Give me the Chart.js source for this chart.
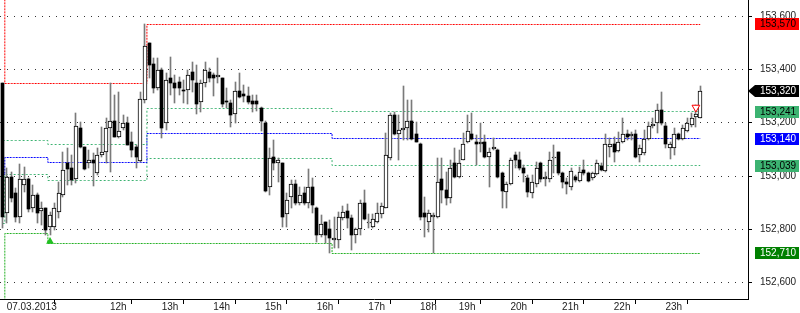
<!DOCTYPE html>
<html><head><meta charset="utf-8">
<script src="https://cdn.jsdelivr.net/npm/chart.js@4"></script>
<style>html,body{margin:0;padding:0;background:#fff;overflow:hidden}canvas{display:block}</style>
</head><body>
<canvas id="c" width="800" height="313"></canvas>
<script>
// ---- data (5-minute candles, 07.03.2013) ----
const openV = [
153348,152860,152998,152938,152848,152966,152988,152879,152929,152869,
152879,152810,152810,152866,152929,153048,153029,152988,153179,153108,
153050,153060,153010,153079,153089,153179,153206,153148,153179,153198,
153129,153108,153058,153285,153498,153419,153329,153398,153198,153366,
153348,153354,153323,153323,153389,153348,153279,153348,153389,153379,
153373,153366,153281,153273,153231,153319,153306,153300,153281,153280,
153256,153200,152960,153070,153050,153048,152858,152923,152969,152898,
152938,152898,152960,152879,152779,152826,152801,152760,152760,152844,
152869,152841,152779,152800,152898,152823,152810,152829,152858,152879,
153069,153229,153158,153173,153179,153206,153158,153120,152860,152829,
152848,152848,152989,152948,152916,153050,152998,153060,153129,153158,
153129,153120,153129,153073,153100,153098,153010,152939,152969,153079,
153060,153031,152994,152935,152969,153048,152989,152989,153066,153089,
153010,152979,152958,152995,152981,153023,153010,152994,153008,153038,
153020,153110,153119,153095,153129,153158,153151,153158,153079,153085,
153139,153189,153198,153248,153189,153106,153104,153156,153139,153170,
153191,153223,153219];
const highV = [
153348,153029,153016,152954,153044,153035,152991,152966,152935,152904,
152881,152866,152898,152979,153089,153104,153079,153235,153204,153110,
153098,153085,153104,153185,153216,153348,153304,153316,153229,153223,
153166,153116,153316,153569,153500,153441,153441,153404,153385,153448,
153379,153373,153360,153398,153429,153416,153360,153429,153404,153385,
153444,153368,153329,153285,153354,153385,153341,153335,153304,153302,
153260,153206,153104,153135,153066,153050,152935,152985,152985,152960,
152960,153026,152994,152885,152854,152829,152835,152848,152866,152889,
152894,152854,152804,152910,152948,152856,152856,152898,152900,153160,
153235,153241,153229,153339,153285,153285,153204,153123,152923,152873,
152860,153066,153066,153016,153060,153104,153098,153160,153229,153235,
153154,153198,153154,153104,153141,153100,153016,152979,153066,153091,
153091,153041,153004,153004,153054,153054,153016,153089,153116,153091,
153016,152991,153029,153004,153035,153060,153016,153016,153060,153048,
153156,153141,153148,153166,153216,153173,153166,153173,153116,153173,
153204,153216,153269,153316,153198,153129,153179,153160,153191,153216,
153235,153266,153338];
const lowV = [
152804,152823,152904,152829,152823,152941,152866,152866,152823,152816,
152779,152779,152798,152841,152923,152966,152966,152973,153104,153023,
153029,152964,153004,153073,153048,153016,153148,153141,153173,153116,
153073,153031,153054,153273,153366,153310,153323,153141,153173,153304,
153273,153304,153273,153269,153316,153231,153241,153335,153354,153300,
153348,153260,153254,153185,153198,153291,153279,153269,153241,153244,
153169,152941,152929,153023,152979,152810,152810,152879,152891,152891,
152891,152879,152860,152754,152773,152748,152712,152729,152729,152835,
152804,152723,152748,152779,152835,152804,152804,152823,152841,152879,
153060,153154,153060,153135,153135,153135,153126,152835,152773,152791,
152710,152841,152898,152891,152898,152991,152991,153060,153123,153135,
153041,153091,153066,152960,153098,152991,152881,152879,152966,153029,
153023,152979,152923,152916,152960,152979,152964,152979,153010,153004,
152954,152931,152948,152979,152979,153004,152979,152985,153004,153019,
153016,153073,153054,153089,153123,153135,153135,153066,153054,153079,
153135,153179,153160,153191,153104,153064,153079,153135,153135,153166,
153185,153185,153219];
const closeV = [
152848,152998,152919,152845,152988,152989,152876,152929,152860,152881,
152798,152854,152879,152938,153023,153026,152985,153188,153108,153026,
153060,153048,153079,153089,153179,153206,153148,153170,153198,153116,
153098,153070,153288,153489,153416,153329,153398,153179,153360,153348,
153329,153329,153319,153379,153360,153269,153348,153398,153366,153366,
153379,153269,153276,153229,153319,153298,153301,153279,153269,153271,
153206,152945,153069,153048,153060,152848,152910,152969,152898,152929,
152898,152960,152891,152779,152819,152779,152769,152769,152848,152866,
152841,152779,152800,152898,152839,152829,152839,152860,152888,153079,
153229,153156,153173,153179,153206,153139,153129,152848,152845,152860,
152854,152979,152948,152919,153031,152998,153048,153119,153169,153139,
153120,153129,153070,153091,153108,152995,152945,152969,153060,153060,
153029,153010,152941,152979,153029,152989,152998,153060,153070,153010,
152979,152970,153020,152985,153016,153010,152981,153010,153048,153023,
153119,153119,153089,153129,153158,153148,153158,153070,153106,153139,
153189,153195,153248,153198,153119,153119,153156,153139,153179,153198,
153219,153231,153320];

const tickIdx = [0,24,36,48,60,72,84,96,105,117,129,141,153];
const tickLabels = ['07.03.2013','12h','13h','14h','15h','16h','17h','18h','19h','20h','21h','22h','23h'];
const yTicks = [152600,152800,153000,153200,153400,153600];

// level lines: value per session segment (segment starts at candle index)
const segStart = [0,1,11,34,77];
const redLevels = [153720,153348,153348,153570,153570];
const green1Levels = [153135,153135,153120,153254,153241];
const blueLevels = [153004,153070,153050,153158,153140];
const green2Levels = [152823,153004,152983,153064,153039];
const green3Levels = [152450,152785,152748,152748,152710];

const lowMarkIdx = [11], lowMarkVal = [152755];
const highMarkIdx = [161], highMarkVal = [153257];

// ---- build ----
const fmt = v => Math.round(v).toLocaleString('en-US');
const idx = openV.map((_, i) => i);
function levelSeries(levels) {
  return idx.map(i => {
    let s = 0;
    for (let k = 0; k < segStart.length; k++) if (i >= segStart[k]) s = k;
    return {x: i, y: levels[s]};
  });
}
const wicks = idx.map(i => ({x: i, y: [lowV[i], highV[i]]}));
const upBodies = idx.filter(i => closeV[i] >= openV[i]).map(i => ({x: i, y: [openV[i], closeV[i]]}));
const downBodies = idx.filter(i => closeV[i] < openV[i]).map(i => ({x: i, y: [closeV[i], openV[i]]}));

const FONT = '"Liberation Sans", Arial, sans-serif';
Chart.defaults.font.family = FONT;
Chart.defaults.font.size = 10;

const levelDs = (data, color, dash, width, order) => ({
  type: 'line', data, borderColor: color, borderWidth: width, borderDash: dash,
  pointRadius: 0, tension: 0, fill: false, stepped: 'middle', order
});

const snap = {
  id: 'snap',
  beforeDatasetsDraw(chart) {
    chart.data.datasets.forEach((ds, di) => {
      const meta = chart.getDatasetMeta(di);
      if (meta.type === 'bar') {
        meta.data.forEach(el => {
          const w = el.width;
          const l = Math.round(el.x - w / 2);
          el.x = l + w / 2;
          el.y = Math.round(el.y); el.base = Math.round(el.base);
        });
      } else if (ds.showLine !== false) {
        const odd = (ds.borderWidth || 1) % 2 === 1;
        meta.data.forEach(el => { el.y = odd ? Math.floor(el.y) + 0.5 : Math.round(el.y); });
      }
    });
  }
};

const boxes = {
  id: 'boxes',
  afterDraw(chart) {
    const ctx = chart.ctx, ys = chart.scales.y, ca = chart.chartArea;
    const last = segStart.length - 1;
    const items = [
      {v: redLevels[last], bg: '#ff0000', fg: '#000'},
      {v: green1Levels[last], bg: '#3cb371', fg: '#000'},
      {v: blueLevels[last], bg: '#0000ff', fg: '#fff'},
      {v: green2Levels[last], bg: '#3cb371', fg: '#000'},
      {v: green3Levels[last], bg: '#008000', fg: '#fff'},
      {v: closeV[closeV.length - 1], bg: '#000', fg: '#fff', arrow: true}
    ];
    ctx.save();
    ctx.font = '10px ' + FONT;
    ctx.textBaseline = 'middle';
    ctx.textAlign = 'left';
    items.forEach(it => {
      const py = Math.round(ys.getPixelForValue(it.v));
      const x0 = ca.right + 7, x1 = 799;
      ctx.fillStyle = it.bg;
      ctx.beginPath();
      if (it.arrow) {
        ctx.moveTo(ca.right, py); ctx.lineTo(x0, py - 6); ctx.lineTo(x1, py - 6);
        ctx.lineTo(x1, py + 6); ctx.lineTo(x0, py + 6); ctx.closePath();
      } else {
        ctx.rect(x0, py - 6, x1 - x0, 12);
      }
      ctx.fill();
      ctx.fillStyle = it.fg;
      ctx.fillText(fmt(it.v), ca.right + 12, py + 0.5);
    });
    ctx.restore();
  }
};

new Chart(document.getElementById('c'), {
  type: 'bar',
  data: {
    datasets: [
      {type: 'line', data: lowMarkIdx.map((x, k) => ({x, y: lowMarkVal[k]})), showLine: false,
       pointStyle: 'triangle', pointRadius: 4.5, pointBackgroundColor: '#22c022', pointBorderColor: '#22c022', pointBorderWidth: 0, order: 0},
      {type: 'line', data: highMarkIdx.map((x, k) => ({x, y: highMarkVal[k]})), showLine: false,
       pointStyle: 'triangle', pointRotation: 180, pointRadius: 4.5, pointBackgroundColor: '#fff', pointBorderColor: '#ff0000', pointBorderWidth: 1, order: 0},
      {data: upBodies, backgroundColor: '#fff', borderColor: '#000', borderWidth: 1, borderSkipped: false, barThickness: 4, order: 1},
      {data: downBodies, backgroundColor: '#000', borderWidth: 0, barThickness: 3, order: 1},
      {data: wicks, backgroundColor: '#7a7a7a', borderWidth: 0, barThickness: 1, order: 2},
      levelDs(levelSeries(redLevels), '#ff0000', [2, 1], 1, 3),
      levelDs(levelSeries(green1Levels), '#3cb371', [2, 2], 1, 3),
      levelDs(levelSeries(blueLevels), '#0000ff', [2, 1], 1, 3),
      levelDs(levelSeries(green2Levels), '#3cb371', [2, 2], 1, 3),
      levelDs(levelSeries(green3Levels), '#22b022', [2, 1], 1, 3)
    ]
  },
  options: {
    responsive: false, animation: false, devicePixelRatio: 1,
    layout: {padding: 0, autoPadding: false},
    datasets: {bar: {grouped: false}},
    plugins: {legend: {display: false}, tooltip: {enabled: false}},
    scales: {
      x: {
        type: 'linear', min: -0.618, max: 173.1, offset: false,
        afterBuildTicks: s => { s.ticks = tickIdx.map(v => ({value: v})); },
        afterFit: s => { s.height = 14; s.paddingLeft = 0; s.paddingRight = 0; },
        ticks: {callback: (v, i) => tickLabels[i], align: 'start', labelOffset: 4, padding: -3,
                autoSkip: false, maxRotation: 0, color: '#222', font: {size: 10}},
        grid: {drawOnChartArea: false, drawTicks: true, tickLength: 5, tickColor: '#000'},
        border: {display: true, color: '#000'}
      },
      y: {
        position: 'right', min: 152539, max: 153660,
        afterBuildTicks: s => { s.ticks = yTicks.map(v => ({value: v})); },
        afterFit: s => { s.width = 52; s.paddingTop = 0; s.paddingBottom = 0; },
        ticks: {callback: v => fmt(v), padding: 8, color: '#222', font: {size: 10}},
        grid: {color: '#333', lineWidth: 1, drawTicks: true, tickLength: 4, tickColor: '#000', tickBorderDash: []},
        border: {display: true, color: '#000', dash: [1, 6]}
      }
    }
  },
  plugins: [snap, boxes]
});
</script>
</body></html>
